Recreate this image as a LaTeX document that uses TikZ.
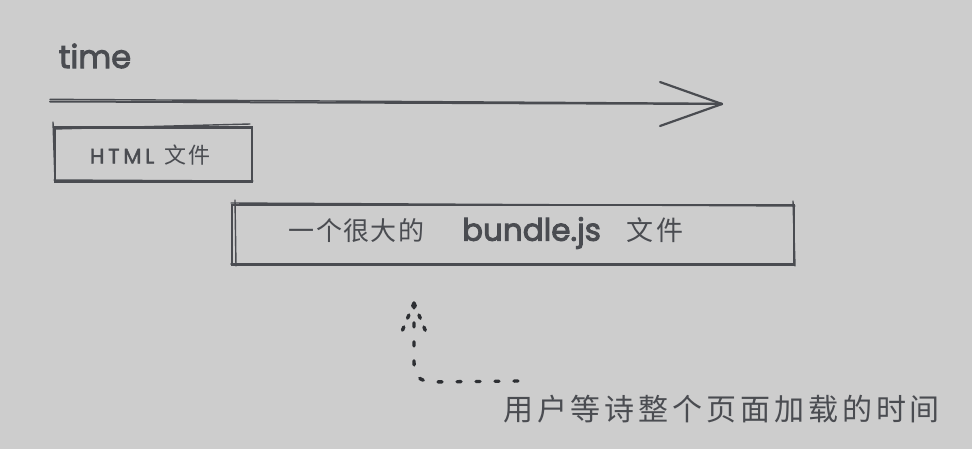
\documentclass[tikz,border=0pt]{standalone}
\usepackage{fontspec}
\setmainfont{Poppins}[FakeBold=3]
\newfontfamily\cjk{Noto Sans CJK SC}
\newfontfamily\cjkwide[LetterSpace=13]{Noto Sans CJK SC}
\newfontfamily\latwide[LetterSpace=18,FakeBold=2]{Poppins}
\definecolor{bg}{RGB}{205,205,205}
\definecolor{ink}{RGB}{74,76,81}
\definecolor{dotink}{RGB}{45,47,51}
\tikzset{
  sketch/.style={draw=ink, line width=2.4pt, line cap=round, line join=round},
  thin sketch/.style={draw=ink, line width=1.4pt, line cap=round},
  boxnode/.style={draw=ink, line width=2.4pt, inner sep=0pt},
  dotline/.style={draw=dotink, line width=3.4pt, line cap=round, dash pattern=on 4pt off 15pt},
  dotwing/.style={draw=dotink, line width=3.4pt, line cap=round, dash pattern=on 3.5pt off 9.5pt},
  lbl/.style={text=ink, inner sep=0pt, anchor=center}
}
\begin{document}
\begin{tikzpicture}[x=1pt,y=-1pt]
\useasboundingbox (0,0) rectangle (972,448);
\fill[bg] (-4,-4) rectangle (976,452);

% time label
\node[lbl, font=\fontsize{32}{32}\selectfont] (time) at (95,56) {time};

% time axis
\coordinate (ts) at (50,101.5);
\coordinate (te) at (722,104);
\draw[sketch, line width=2pt] (ts) -- (te);
\draw[sketch, line width=1.4pt] ([yshift=2.2pt]ts) -- ([yshift=0.6pt]te);
\draw[sketch, line width=2.2pt] (te) -- ++(-62,-22);
\draw[sketch, line width=2.2pt] (te) -- ++(-62,22);

% HTML box
\node[boxnode, minimum width=197pt, minimum height=54pt] (html) at (153.5,154.5) {};
\draw[thin sketch] (54,129) -- (250,124);
\draw[thin sketch] (53,122) -- (55,181);
\draw[thin sketch] (54,180) -- (253,181);
\node[lbl, font=\latwide\fontsize{21}{21}\selectfont] (htmltxt) at (150,155) {HTML\hspace{10pt}{\cjk\fontsize{22}{22}\selectfont\addfontfeatures{LetterSpace=8}文件}};

% bundle box
\node[boxnode, minimum width=562pt, minimum height=60pt] (bundle) at (513,235) {};
\draw[thin sketch] (231,203) -- (795,206);
\draw[thin sketch] (235,200) -- (236,266);
\draw[thin sketch] (231,264) -- (793,264);
\draw[thin sketch] (793,201) -- (795,266);
\node[lbl] (bundletxt) at (486,233) {{\cjk\addfontfeatures{LetterSpace=5}\fontsize{26}{26}\selectfont 一个很大的}\hspace{38pt}{\fontsize{31}{31}\selectfont bundle.js}\hspace{26pt}{\cjk\addfontfeatures{LetterSpace=8}\fontsize{27}{27}\selectfont 文件}};

% bottom label
\node[lbl, font=\cjkwide\fontsize{30}{30}\selectfont, anchor=west] (wait) at (503,409) {用户等诗整个页面加载的时间};

% dotted arrow
\coordinate (ds) at (518,381);
\coordinate (tip) at (414,303);
\draw[dotline] (ds) -- (432,382) .. controls (419,381) and (414,376) .. (414,362) -- (tip);
\draw[dotwing] (tip) -- (400,336);
\draw[dotwing] (tip) -- (428,337);
\end{tikzpicture}
\end{document}
